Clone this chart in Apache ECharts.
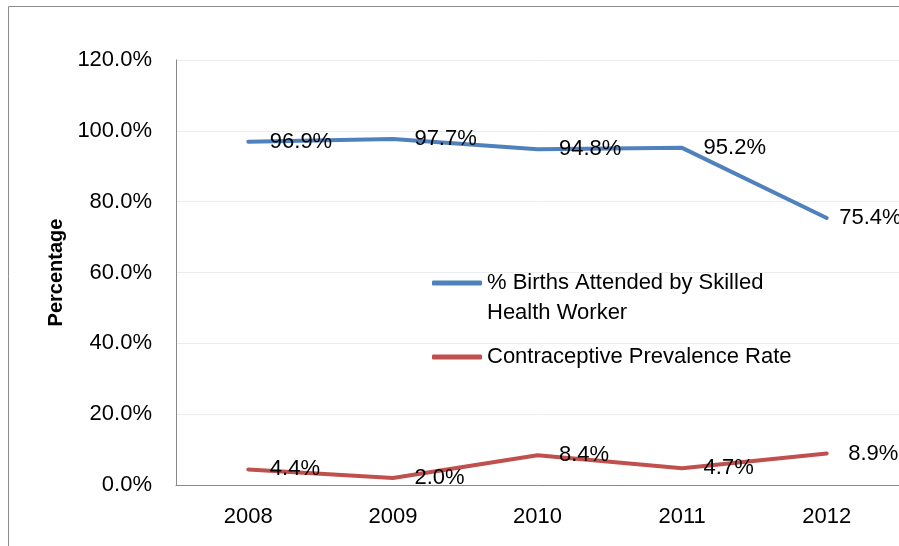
<!DOCTYPE html>
<html>
<head>
<meta charset="utf-8">
<script src="https://cdn.jsdelivr.net/npm/echarts@6/dist/echarts.min.js"></script>
<style>
html,body{margin:0;padding:0;background:#fff;}
#chart{width:899px;height:546px;}
</style>
</head>
<body>
<div id="chart"></div>
<script>
var categories = ['2008', '2009', '2010', '2011', '2012'];
var birthsSkilled = [96.9, 97.7, 94.8, 95.2, 75.4];
var contraceptive = [4.4, 2.0, 8.4, 4.7, 8.9];
var seriesNames = ['% Births Attended by Skilled Health Worker', 'Contraceptive Prevalence Rate'];
var yTicks = { min: 0, max: 120, interval: 20 };

var FONT = '"Liberation Sans", Arial, sans-serif';
var chart = echarts.init(document.getElementById('chart'), null, { renderer: 'canvas' });

function labelCfg(offsetY) {
  return {
    show: true,
    position: 'right',
    distance: 21,
    offset: [0, offsetY],
    color: '#000',
    opacity: 1,
    fontFamily: FONT,
    fontSize: 22,
    formatter: function (p) { return p.value.toFixed(1) + '%'; }
  };
}

var option = {
  animation: false,
  backgroundColor: '#fff',
  textStyle: { fontFamily: FONT },
  graphic: [{
    type: 'rect',
    shape: { x: 8.5, y: 6.5, width: 1000, height: 1000 },
    style: { fill: 'none', stroke: '#8c8c8c', lineWidth: 1 },
    silent: true,
    z: 0
  }],
  grid: { left: 176, top: 60, width: 730, height: 425, containLabel: false },
  legend: [{
    orient: 'vertical',
    left: 432,
    top: 238,
    padding: 0,
    icon: 'roundRect',
    itemWidth: 50,
    itemHeight: 5,
    data: [seriesNames[0]],
    formatter: function () { return ' \n% Births Attended by Skilled\nHealth Worker'; },
    textStyle: { fontFamily: FONT, fontSize: 22, color: '#000', lineHeight: 30 }
  }, {
    orient: 'vertical',
    left: 432,
    top: 342,
    padding: 0,
    icon: 'roundRect',
    itemWidth: 50,
    itemHeight: 5,
    data: [seriesNames[1]],
    textStyle: { fontFamily: FONT, fontSize: 22, color: '#000', lineHeight: 30 }
  }],
  xAxis: {
    type: 'category',
    data: categories,
    boundaryGap: true,
    axisLine: { show: true, lineStyle: { color: '#888888', width: 1 } },
    axisTick: { show: false },
    axisLabel: { color: '#000', fontFamily: FONT, fontSize: 22, margin: 21 },
    splitLine: { show: false }
  },
  yAxis: {
    type: 'value',
    min: yTicks.min,
    max: yTicks.max,
    interval: yTicks.interval,
    name: 'Percentage',
    nameLocation: 'middle',
    nameGap: 106,
    nameRotate: 90,
    nameTextStyle: { color: '#000', fontFamily: FONT, fontSize: 20, fontWeight: 'bold' },
    axisLine: { show: true, lineStyle: { color: '#888888', width: 1 } },
    axisTick: { show: false },
    axisLabel: {
      color: '#000', fontFamily: FONT, fontSize: 22, margin: 24,
      formatter: function (v) { return v.toFixed(1) + '%'; }
    },
    splitLine: { show: true, lineStyle: { color: '#ececec', width: 1 } }
  },
  series: [{
    name: seriesNames[0],
    type: 'line',
    data: birthsSkilled.map(function (v, i) {
      return i === birthsSkilled.length - 1 ? { value: v, label: { distance: 12 } } : v;
    }),
    symbol: 'circle',
    symbolSize: 1,
    showSymbol: true,
    lineStyle: { color: '#4F81BD', width: 4, cap: 'round', join: 'round' },
    itemStyle: { color: '#4F81BD' },
    label: labelCfg(1),
    labelLayout: { hideOverlap: false },
    z: 3
  }, {
    name: seriesNames[1],
    type: 'line',
    data: contraceptive,
    symbol: 'circle',
    symbolSize: 1,
    showSymbol: true,
    lineStyle: { color: '#C0504D', width: 4, cap: 'round', join: 'round' },
    itemStyle: { color: '#C0504D' },
    label: labelCfg(2),
    labelLayout: { hideOverlap: false },
    z: 3
  }]
};
chart.setOption(option);
</script>
</body>
</html>
